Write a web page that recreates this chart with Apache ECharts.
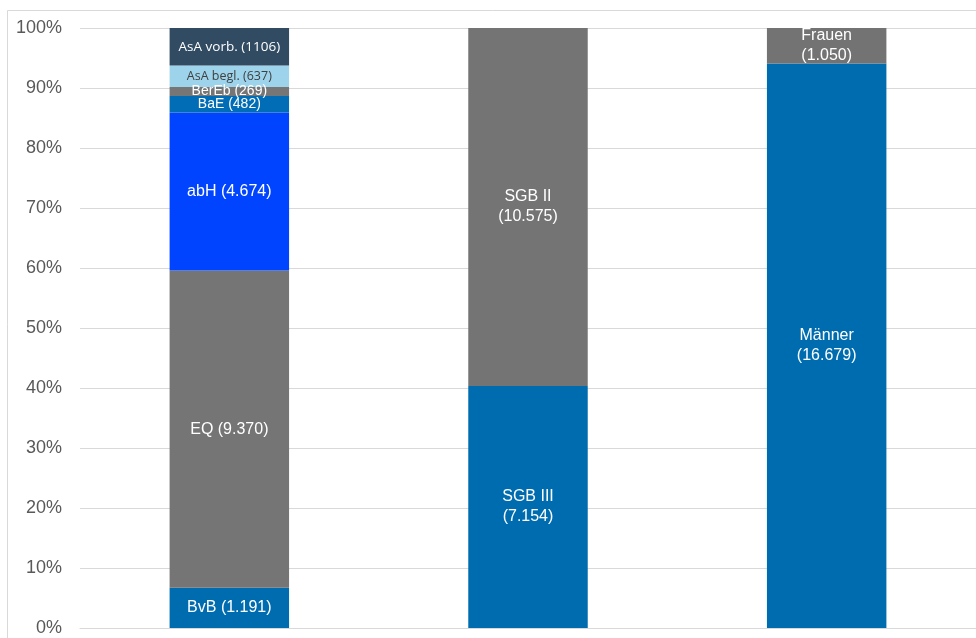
<!DOCTYPE html>
<html>
<head>
<meta charset="utf-8">
<script src="https://cdn.jsdelivr.net/npm/echarts@6/dist/echarts.min.js"></script>
<style>html,body{margin:0;padding:0;background:#fff}#c{width:976px;height:638px}</style>
</head>
<body>
<div id="c"></div>
<script>
var categories = ['Maßnahmen', 'Rechtskreis', 'Geschlecht'];
var yTickLabels = ['0%','10%','20%','30%','40%','50%','60%','70%','80%','90%','100%'];

// Bar 1: Maßnahmen (bottom to top)
var names1 = ['BvB', 'EQ', 'abH', 'BaE', 'BerEb', 'AsA begl.', 'AsA vorb.'];
var values1 = [1191, 9370, 4674, 482, 269, 637, 1106];
var labels1 = ['BvB (1.191)', 'EQ (9.370)', 'abH (4.674)', 'BaE (482)', 'BerEb (269)', 'AsA begl. (637)', 'AsA vorb. (1106)'];

// Bar 2: Rechtskreis
var names2 = ['SGB III', 'SGB II'];
var values2 = [7154, 10575];
var labels2 = ['SGB III\n(7.154)', 'SGB II\n(10.575)'];

// Bar 3: Geschlecht
var names3 = ['Männer', 'Frauen'];
var values3 = [16679, 1050];
var labels3 = ['Männer\n(16.679)', 'Frauen\n(1.050)'];

var colors1 = ['#006CB0', '#757575', '#0044FF', '#006DB6', '#767676', '#9DD4EB', '#314B63'];
var colors2 = ['#006CB0', '#747474'];
var colors3 = ['#006CB0', '#737373'];
var labelStyle1 = [
  {fontSize: 16, color: '#fff', fontFamily: 'Liberation Sans, Arial'},
  {fontSize: 16, color: '#fff', fontFamily: 'Liberation Sans, Arial'},
  {fontSize: 16, color: '#fff', fontFamily: 'Liberation Sans, Arial'},
  {fontSize: 14, color: '#fff', fontFamily: 'Liberation Sans, Arial'},
  {fontSize: 14, color: '#fff', fontFamily: 'Liberation Sans, Arial'},
  {fontSize: 12.5, color: '#404040', fontFamily: 'Open Sans'},
  {fontSize: 13.5, color: '#fff', fontFamily: 'Open Sans'}
];

function sum(a){ return a.reduce(function(s,v){return s+v;},0); }
var series = [];
function addGroup(idx, names, values, labels, colors, styles) {
  var total = sum(values);
  names.forEach(function(n, i){
    var d = [null, null, null];
    d[idx] = values[i] / total * 100;
    var st = styles ? styles[i] : {fontSize: 16, color: '#fff', fontFamily: 'Liberation Sans, Arial', lineHeight: 20};
    series.push({
      name: n, type: 'bar', stack: 'all', barWidth: '40%',
      data: d,
      itemStyle: {color: colors[i]},
      label: Object.assign({show: true, position: 'inside', formatter: labels[i]}, st),
      emphasis: {disabled: true}
    });
  });
}
addGroup(0, names1, values1, labels1, colors1, labelStyle1);
addGroup(1, names2, values2, labels2, colors2, null);
addGroup(2, names3, values3, labels3, colors3, null);

var chart = echarts.init(document.getElementById('c'), null, {renderer: 'canvas'});
chart.setOption({
  animation: false,
  graphic: [{type: 'rect', shape: {x: 7.5, y: 10.5, width: 1000, height: 700}, style: {fill: 'none', stroke: '#d9d9d9', lineWidth: 1}, silent: true, z: -1}],
  grid: {left: 80, right: 0, top: 28, bottom: 10},
  xAxis: {type: 'category', data: categories, axisLabel: {show: false}, axisTick: {show: false}, axisLine: {lineStyle: {color: '#d9d9d9'}}},
  yAxis: {type: 'value', min: 0, max: 100, interval: 10,
    axisLabel: {formatter: function(v){ return yTickLabels[Math.round(v/10)]; }, fontSize: 18, color: '#595959', fontFamily: 'Liberation Sans, Arial', margin: 18},
    splitLine: {lineStyle: {color: '#d9d9d9'}}, axisLine: {show: false}, axisTick: {show: false}},
  series: series
});
</script>
</body>
</html>
